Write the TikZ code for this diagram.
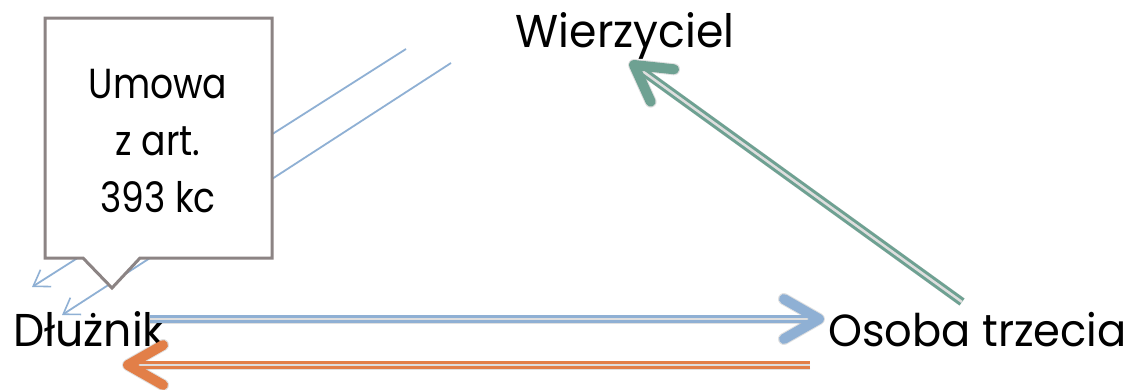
\documentclass[tikz,border=0pt]{standalone}
\usepackage{fontspec}
\setmainfont[FakeStretch=0.96]{Poppins}
\newfontfamily\calfont[FakeStretch=0.86]{Poppins}
\usetikzlibrary{arrows.meta,calc}
\definecolor{cblue}{RGB}{143,176,212}
\definecolor{corange}{RGB}{226,127,72}
\definecolor{cgreen}{RGB}{110,161,146}
\definecolor{cinner}{RGB}{222,222,222}
\definecolor{cborder}{RGB}{140,132,132}
\tikzset{
  lbl/.style={inner sep=0pt, font=\fontsize{46}{50}\selectfont},
  cal/.style={inner sep=0pt, anchor=base, font=\calfont\fontsize{42}{57}\selectfont},
  shaft/.style={line width=3pt, double=cinner, double distance=2.5pt},
  chev/.style={line width=10pt, line cap=round, line join=round},
  shad/.style={line width=9pt, black, opacity=0.12},
  thin/.style={cblue, line width=1.8pt, -{Straight Barb[length=15pt,width=20pt,line width=1.6pt]}},
}
\begin{document}
\begin{tikzpicture}[x=1pt,y=-1pt]
\useasboundingbox[fill=white] (0,0) rectangle (1130,389);
% labels
\node[lbl, anchor=base] (wier) at (625,47) {Wierzyciel};
\node[lbl, anchor=base west] (dluz) at (13,346) {Dłużnik};
\node[lbl, anchor=base east, font=\fontsize{45}{50}\selectfont] (osoba) at (1127,346) {Osoba trzecia};
% coordinates
\coordinate (bS) at (150,319); \coordinate (bT) at (819,319);
\coordinate (oS) at (810,365); \coordinate (oT) at (128,365);
\coordinate (gS) at (962,302); \coordinate (gT) at (634,65);
\coordinate (t1S) at (406,49); \coordinate (t1T) at (32,287);
\coordinate (t2S) at (451,63); \coordinate (t2T) at (62,315);
% shadows
\begin{scope}[shift={(2,4)}]
  \draw[shad] (bS) -- ($(bT)!4pt!(bS)$);
  \draw[shad] (oS) -- ($(oT)!4pt!(oS)$);
  \draw[shad] (gS) -- ($(gT)!4pt!(gS)$);
  \draw[shad, line width=12pt, line cap=round, line join=round]
    ($(bT)!40.3pt!29.7:(bS)$) -- (bT) -- ($(bT)!40.3pt!-29.7:(bS)$);
  \draw[shad, line width=12pt, line cap=round, line join=round]
    ($(oT)!40.3pt!29.7:(oS)$) -- (oT) -- ($(oT)!40.3pt!-29.7:(oS)$);
  \draw[shad, line width=12pt, line cap=round, line join=round]
    ($(gT)!40.3pt!29.7:(gS)$) -- (gT) -- ($(gT)!40.3pt!-29.7:(gS)$);
\end{scope}
% thin blue arrows (behind callout)
\draw[thin] (t1S) -- (t1T);
\draw[thin] (t2S) -- (t2T);
% callout
\draw[cborder, line width=3pt, fill=white, line join=miter]
  (45,18) -- (272,18) -- (272,258) -- (140,258) -- (112,288) -- (83,258) -- (45,258) -- cycle;
\node[cal] (u1) at (158,98) {Umowa};
\node[cal] (u2) at (158,155) {z art.};
\node[cal] (u3) at (158,212) {393 kc};
% double arrows
\draw[shaft, cblue] (bS) -- ($(bT)!4pt!(bS)$);
\draw[chev, cblue] ($(bT)!40.3pt!29.7:(bS)$) -- (bT) -- ($(bT)!40.3pt!-29.7:(bS)$);
\draw[shaft, corange] (oS) -- ($(oT)!4pt!(oS)$);
\draw[chev, corange] ($(oT)!40.3pt!29.7:(oS)$) -- (oT) -- ($(oT)!40.3pt!-29.7:(oS)$);
\draw[shaft, cgreen] (gS) -- ($(gT)!4pt!(gS)$);
\draw[chev, cgreen] ($(gT)!40.3pt!29.7:(gS)$) -- (gT) -- ($(gT)!40.3pt!-29.7:(gS)$);
\end{tikzpicture}
\end{document}
